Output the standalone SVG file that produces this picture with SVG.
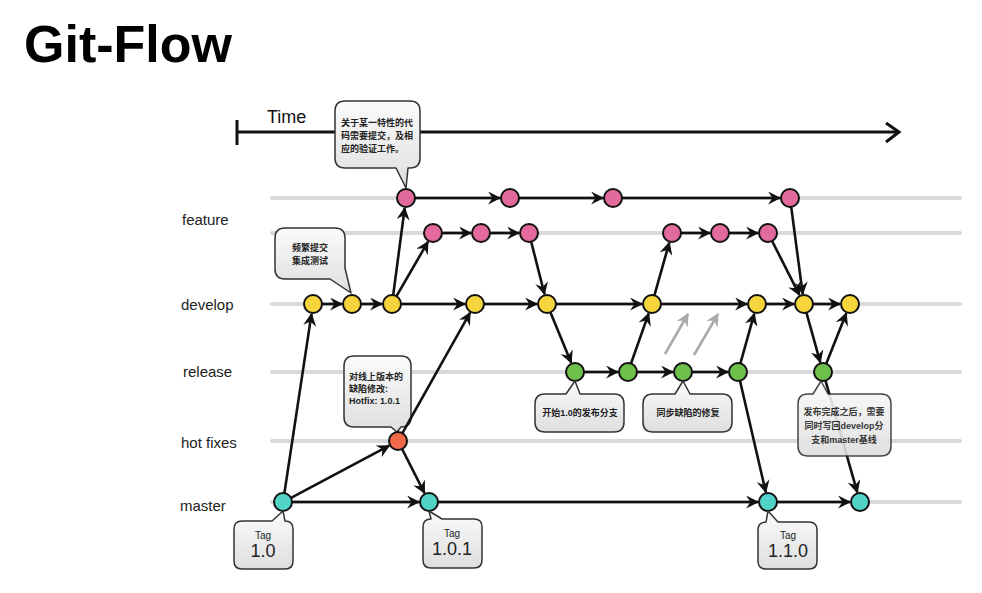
<svg xmlns="http://www.w3.org/2000/svg" width="982" height="593" viewBox="0 0 982 593">
<style>
.lane{stroke:#d9d9d9;stroke-width:4;stroke-linecap:round;fill:none}
.lbl{font-family:"Liberation Sans",Arial,sans-serif;font-size:15px;fill:#222}
.c{stroke:#111;stroke-width:2}
.pink{fill:#e26a9c}
.yel{fill:#f6d53c}
.grn{fill:#6cc04b}
.teal{fill:#52d3c8}
.red{fill:#f06a4a}
.e{stroke:#111;stroke-width:2.6;fill:none;marker-end:url(#ah)}
.g{stroke:#aaa;stroke-width:2.6;fill:none;marker-end:url(#ahg)}
.co{fill:url(#cg);stroke:#333;stroke-width:1.5;stroke-linejoin:round}
.ct{font-family:"Liberation Sans","Noto Sans CJK SC",sans-serif;font-size:9px;font-weight:bold;fill:#222}
.tg{font-family:"Liberation Sans",Arial,sans-serif;fill:#222;text-anchor:middle}
</style>
<defs>
<linearGradient id="cg" x1="0" y1="0" x2="0" y2="1">
<stop offset="0" stop-color="#fbfbfb"/>
<stop offset="1" stop-color="#dedede"/>
</linearGradient>
<marker id="ah" viewBox="0 0 12 12" refX="11" refY="6" markerWidth="13" markerHeight="13" markerUnits="userSpaceOnUse" orient="auto">
<path d="M0,0 L12,6 L0,12 L4,6 Z" fill="#111"/>
</marker>
<marker id="ahg" viewBox="0 0 12 12" refX="11" refY="6" markerWidth="13" markerHeight="13" markerUnits="userSpaceOnUse" orient="auto">
<path d="M0,0 L12,6 L0,12 L4,6 Z" fill="#aaa"/>
</marker>
</defs>
<rect width="982" height="593" fill="#fff"/>
<text x="24" y="62" font-family="Liberation Sans,Arial,sans-serif" font-size="52" font-weight="bold" fill="#000">Git-Flow</text>

<g id="timeline">
<text x="267" y="123" font-family="Liberation Sans,Arial,sans-serif" font-size="18" fill="#111">Time</text>
<line x1="238" y1="132" x2="898" y2="132" stroke="#111" stroke-width="3"/>
<line x1="237" y1="120" x2="237" y2="145" stroke="#111" stroke-width="3"/>
<polyline points="886,123 899,132 886,142" fill="none" stroke="#111" stroke-width="3"/>
</g>

<g id="lanes">
<line class="lane" x1="272" y1="198" x2="960" y2="198"/>
<line class="lane" x1="272" y1="233" x2="960" y2="233"/>
<line class="lane" x1="272" y1="304" x2="960" y2="304"/>
<line class="lane" x1="272" y1="372" x2="960" y2="372"/>
<line class="lane" x1="272" y1="441" x2="960" y2="441"/>
<line class="lane" x1="272" y1="502" x2="960" y2="502"/>
<text class="lbl" x="182" y="225">feature</text>
<text class="lbl" x="181" y="310">develop</text>
<text class="lbl" x="183" y="377">release</text>
<text class="lbl" x="181" y="448">hot fixes</text>
<text class="lbl" x="180" y="511">master</text>
</g>

<g id="callouts-top">
<g id="note-feature">
<path class="co" d="M345,101 H410 Q420,101 420,111 V158 Q420,168 410,168 H408 L406,188 L396,168 H345 Q335,168 335,158 V111 Q335,101 345,101 Z"/>
<text class="ct" x="341" y="126">关于某一特性的代</text>
<text class="ct" x="341" y="139">码需要提交，及相</text>
<text class="ct" x="341" y="152">应的验证工作。</text>
</g>
<g id="note-develop">
<path class="co" d="M285,228 H335 Q345,228 345,238 V268 L351,293 L330,279 H285 Q275,279 275,269 V238 Q275,228 285,228 Z"/>
<text class="ct" x="310" y="251" text-anchor="middle">频繁提交</text>
<text class="ct" x="310" y="264" text-anchor="middle">集成测试</text>
</g>
<g id="note-hotfix">
<path class="co" d="M354,356 H401 Q411,356 411,366 V417 Q411,427 401,427 L397,432 L391,427 H354 Q344,427 344,417 V366 Q344,356 354,356 Z"/>
<text class="ct" x="349" y="380">对线上版本的</text>
<text class="ct" x="349" y="392">缺陷修改:</text>
<text class="ct" x="349" y="404">Hotfix: 1.0.1</text>
</g>
</g>

<g id="connectors">
<line class="e" x1="284.4" y1="493.1" x2="311.5" y2="313.9"/>
<line class="e" x1="291" y1="497.8" x2="389.2" y2="445.7"/>
<line class="e" x1="292" y1="502" x2="419" y2="502"/>
<line class="e" x1="402.1" y1="449" x2="424.5" y2="493.1"/>
<line class="e" x1="402.4" y1="433.2" x2="470.1" y2="312.7"/>
<line class="e" x1="322" y1="304" x2="342" y2="304"/>
<line class="e" x1="361" y1="304" x2="382" y2="304"/>
<line class="e" x1="393.2" y1="295.1" x2="404.7" y2="207.9"/>
<line class="e" x1="396.5" y1="296.2" x2="428" y2="241.7"/>
<line class="e" x1="401" y1="304" x2="465" y2="304"/>
<line class="e" x1="484" y1="304" x2="537" y2="304"/>
<line class="e" x1="415" y1="198" x2="500" y2="198"/>
<line class="e" x1="519" y1="198" x2="603" y2="198"/>
<line class="e" x1="622" y1="198" x2="780" y2="198"/>
<line class="e" x1="442" y1="233" x2="471" y2="233"/>
<line class="e" x1="490" y1="233" x2="519" y2="233"/>
<line class="e" x1="531.2" y1="241.7" x2="544.5" y2="294.3"/>
<line class="e" x1="550.4" y1="312.3" x2="571.2" y2="362.7"/>
<line class="e" x1="556" y1="304" x2="642" y2="304"/>
<line class="e" x1="661" y1="304" x2="747" y2="304"/>
<line class="e" x1="766" y1="304" x2="794" y2="304"/>
<line class="e" x1="813" y1="304" x2="840" y2="304"/>
<line class="e" x1="584" y1="372" x2="618" y2="372"/>
<line class="e" x1="637" y1="372" x2="673" y2="372"/>
<line class="e" x1="692" y1="372" x2="728" y2="372"/>
<line class="e" x1="631" y1="363.5" x2="648.7" y2="313.4"/>
<line class="e" x1="654.4" y1="295.3" x2="669.3" y2="242.6"/>
<line class="e" x1="681" y1="233" x2="710" y2="233"/>
<line class="e" x1="729" y1="233" x2="758" y2="233"/>
<line class="e" x1="772.1" y1="241" x2="799.5" y2="295.1"/>
<line class="e" x1="791.2" y1="206.9" x2="802.7" y2="294.1"/>
<line class="e" x1="740.4" y1="363.3" x2="754.3" y2="313.6"/>
<line class="e" x1="740" y1="380.8" x2="765.8" y2="492.3"/>
<line class="e" x1="438" y1="502" x2="758" y2="502"/>
<line class="e" x1="777" y1="502" x2="850" y2="502"/>
<line class="e" x1="806.4" y1="312.7" x2="820.3" y2="362.4"/>
<line class="e" x1="826.3" y1="363.6" x2="846.3" y2="313.3"/>
<line class="e" x1="825.5" y1="380.7" x2="857.3" y2="492.4"/>
<line class="g" x1="665" y1="354" x2="688" y2="314"/>
<line class="g" x1="694" y1="355" x2="718" y2="314"/>
</g>

<g id="nodes">
<g id="f1a"><circle class="c pink" cx="406" cy="198" r="9"/></g>
<g id="f1b"><circle class="c pink" cx="510" cy="198" r="9"/></g>
<g id="f1c"><circle class="c pink" cx="613" cy="198" r="9"/></g>
<g id="f1d"><circle class="c pink" cx="790" cy="198" r="9"/></g>
<g id="f2a"><circle class="c pink" cx="433" cy="233" r="9"/></g>
<g id="f2b"><circle class="c pink" cx="481" cy="233" r="9"/></g>
<g id="f2c"><circle class="c pink" cx="529" cy="233" r="9"/></g>
<g id="f2d"><circle class="c pink" cx="672" cy="233" r="9"/></g>
<g id="f2e"><circle class="c pink" cx="720" cy="233" r="9"/></g>
<g id="f2f"><circle class="c pink" cx="768" cy="233" r="9"/></g>
<g id="d1"><circle class="c yel" cx="313" cy="304" r="9"/></g>
<g id="d2"><circle class="c yel" cx="352" cy="304" r="9"/></g>
<g id="d3"><circle class="c yel" cx="392" cy="304" r="9"/></g>
<g id="d4"><circle class="c yel" cx="475" cy="304" r="9"/></g>
<g id="d5"><circle class="c yel" cx="547" cy="304" r="9"/></g>
<g id="d6"><circle class="c yel" cx="652" cy="304" r="9"/></g>
<g id="d7"><circle class="c yel" cx="757" cy="304" r="9"/></g>
<g id="d8"><circle class="c yel" cx="804" cy="304" r="9"/></g>
<g id="d9"><circle class="c yel" cx="850" cy="304" r="9"/></g>
<g id="r1"><circle class="c grn" cx="575" cy="372" r="9"/></g>
<g id="r2"><circle class="c grn" cx="628" cy="372" r="9"/></g>
<g id="r3"><circle class="c grn" cx="683" cy="372" r="9"/></g>
<g id="r4"><circle class="c grn" cx="738" cy="372" r="9"/></g>
<g id="r5"><circle class="c grn" cx="823" cy="372" r="9"/></g>
<g id="h1"><circle class="c red" cx="398" cy="441" r="9"/></g>
<g id="m1"><circle class="c teal" cx="283" cy="502" r="9"/></g>
<g id="m2"><circle class="c teal" cx="429" cy="502" r="9"/></g>
<g id="m3"><circle class="c teal" cx="768" cy="502" r="9"/></g>
<g id="m4"><circle class="c teal" cx="860" cy="502" r="9"/></g>
</g>

<g id="callouts-bottom">
<g id="note-release-start">
<path class="co" d="M545,394 H566 L575,381 L580,394 H614 Q624,394 624,404 V422 Q624,432 614,432 H545 Q535,432 535,422 V404 Q535,394 545,394 Z"/>
<text class="ct" x="580" y="416" text-anchor="middle">开始1.0的发布分支</text>
</g>
<g id="note-release-sync">
<path class="co" d="M653,394 H675 L683,381 L690,394 H722 Q732,394 732,404 V422 Q732,432 722,432 H653 Q643,432 643,422 V404 Q643,394 653,394 Z"/>
<text class="ct" x="688" y="416" text-anchor="middle">同步缺陷的修复</text>
</g>
<g id="note-release-done" opacity="0.9">
<path class="co" d="M808,394 H813 L821,381 L828,394 H881 Q891,394 891,404 V446 Q891,456 881,456 H808 Q798,456 798,446 V404 Q798,394 808,394 Z"/>
<text class="ct" x="844" y="415" text-anchor="middle" font-size="8.5">发布完成之后，需要</text>
<text class="ct" x="844" y="429" text-anchor="middle" font-size="8.5">同时写回develop分</text>
<text class="ct" x="844" y="443" text-anchor="middle" font-size="8.5">支和master基线</text>
</g>
<g id="tag-1-0">
<path class="co" d="M242,521 H272 L283,511 L285,521 Q293,521 293,529 V561 Q293,569 285,569 H242 Q234,569 234,561 V529 Q234,521 242,521 Z"/>
<text class="tg" x="263" y="539" font-size="10">Tag</text>
<text class="tg" x="263" y="557" font-size="18">1.0</text>
</g>
<g id="tag-1-0-1">
<path class="co" d="M431,519 L429,511 L442,519 H474 Q482,519 482,527 V560 Q482,568 474,568 H431 Q423,568 423,560 V527 Q423,519 431,519 Z"/>
<text class="tg" x="452" y="537" font-size="10">Tag</text>
<text class="tg" x="452" y="555" font-size="18">1.0.1</text>
</g>
<g id="tag-1-1-0">
<path class="co" d="M766,522 L768,511 L778,522 H809 Q817,522 817,530 V561 Q817,569 809,569 H766 Q758,569 758,561 V530 Q758,522 766,522 Z"/>
<text class="tg" x="788" y="539" font-size="10">Tag</text>
<text class="tg" x="788" y="557" font-size="18">1.1.0</text>
</g>
</g>
</svg>
